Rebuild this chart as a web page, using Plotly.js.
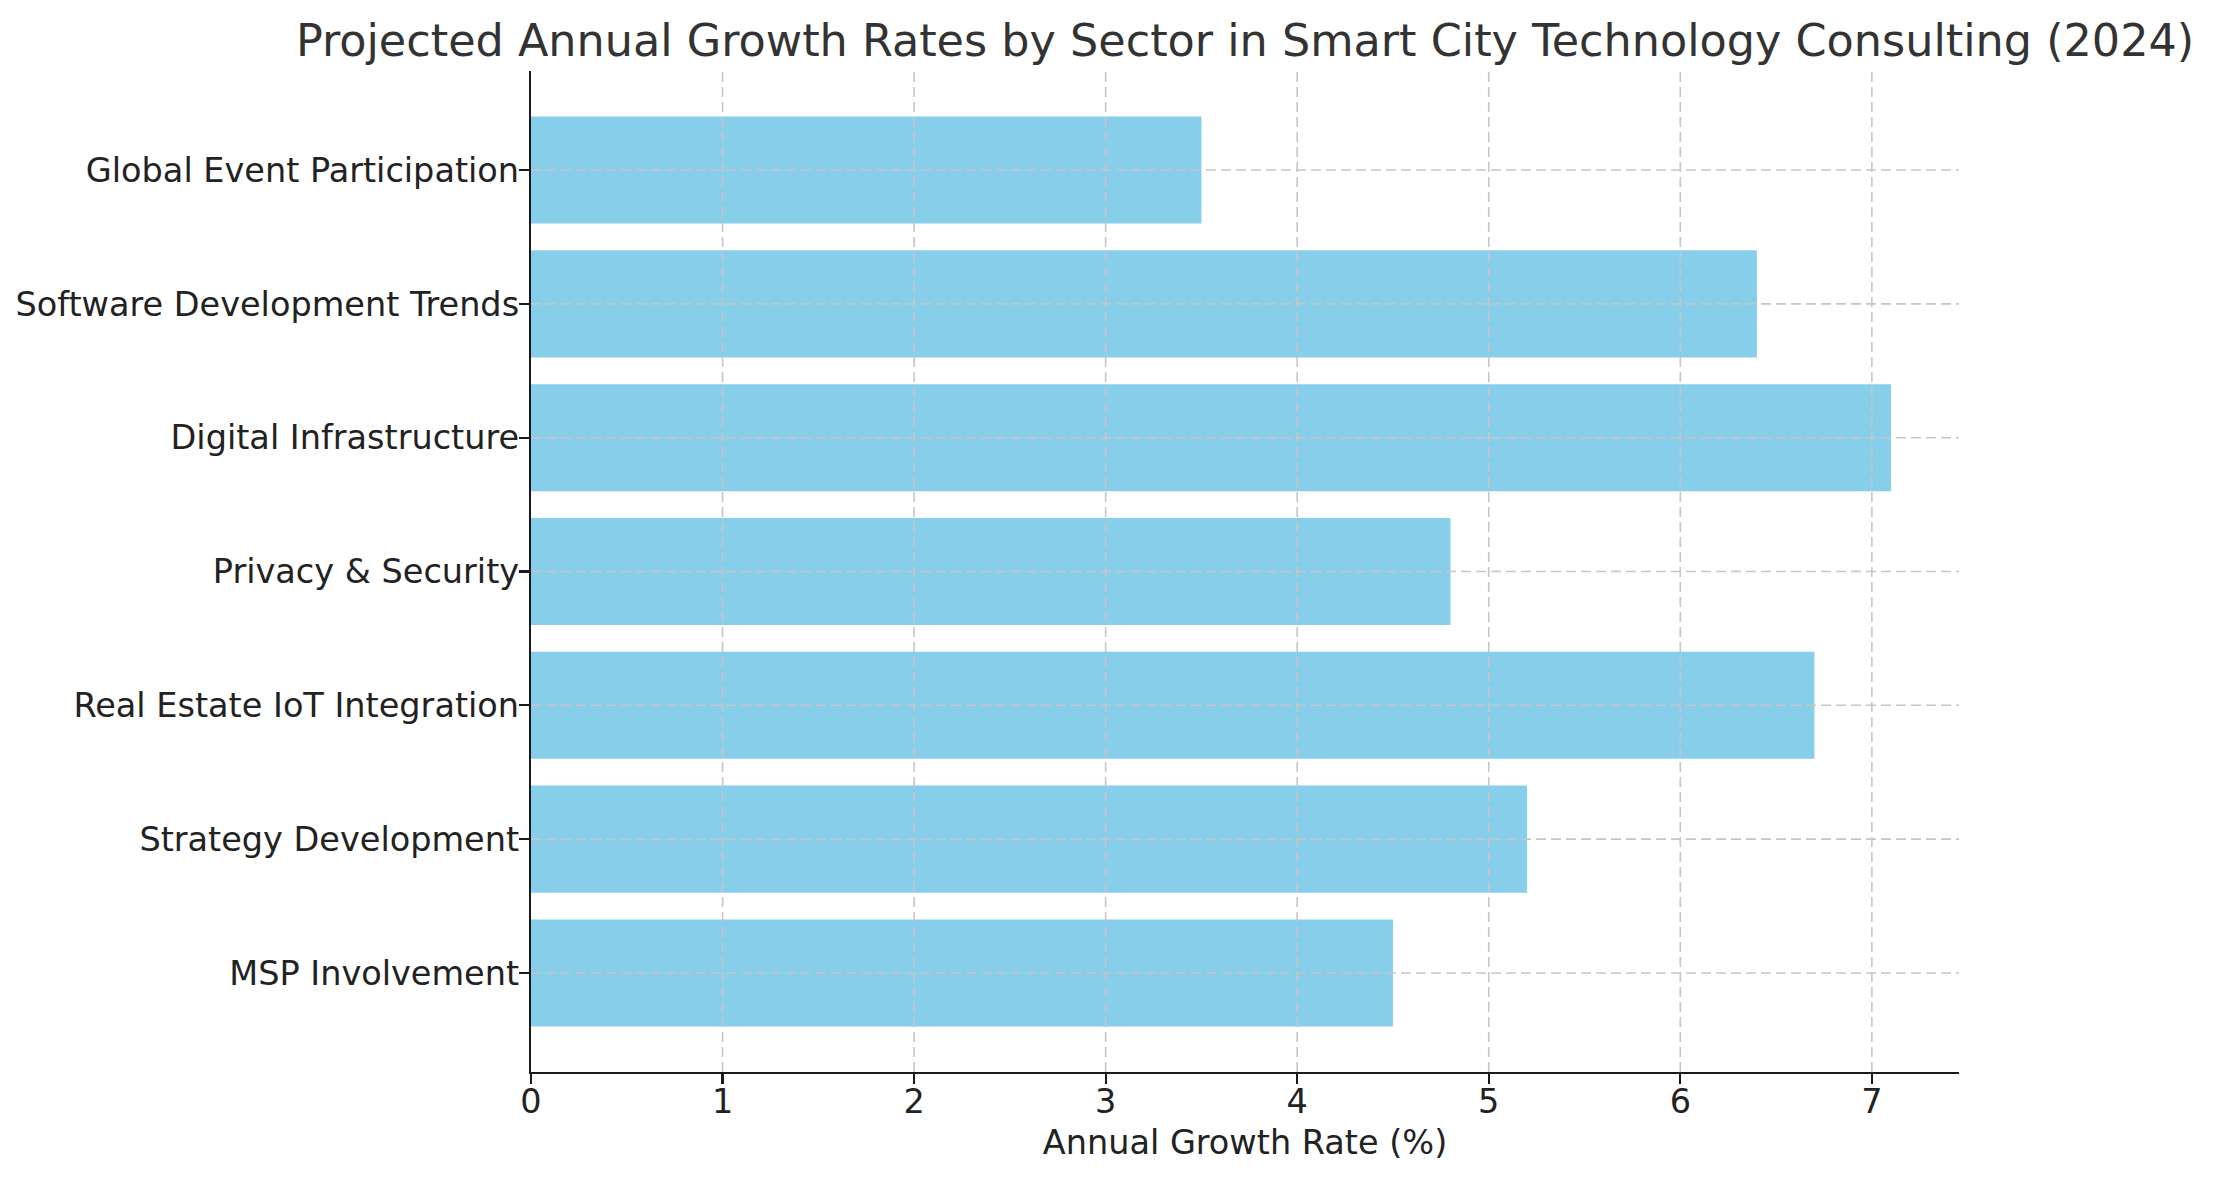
<!DOCTYPE html>
<html>
<head>
<meta charset="utf-8">
<script src="https://cdn.plot.ly/plotly-3.0.1.min.js"></script>
<style>
  html, body { margin: 0; padding: 0; background: #fff; }
  #chart { width: 2215px; height: 1180px; }
</style>
</head>
<body>
<div id="chart"></div>
<script>
// Sectors, bottom to top as they sit on the y axis.
const sectors = [
    'MSP Involvement',
    'Strategy Development',
    'Real Estate IoT Integration',
    'Privacy & Security',
    'Digital Infrastructure',
    'Software Development Trends',
    'Global Event Participation',
];
const growthRates = [4.5, 5.2, 6.7, 4.8, 7.1, 6.4, 3.5];
const xTicks = [0, 1, 2, 3, 4, 5, 6, 7];

const font = 'DejaVu Sans, Noto Sans, sans-serif';
const gridColor = '#c6c6c6';
const labelSize = 33.5;

// matplotlib draws its grid over the bars, so the grid is done with shapes
// on the 'above' layer instead of the axis gridlines (which sit below traces).
const gridShapes = [];
xTicks.filter((v) => v > 0).forEach((v) => {
    gridShapes.push({
        type: 'line', layer: 'above', xref: 'x', yref: 'paper',
        x0: v, x1: v, y0: 0, y1: 1,
        line: { color: gridColor, width: 1.6, dash: '10px,5px' },
    });
});
sectors.forEach((s) => {
    gridShapes.push({
        type: 'line', layer: 'above', xref: 'paper', yref: 'y',
        x0: 0, x1: 1, y0: s, y1: s,
        line: { color: gridColor, width: 1.6, dash: '10px,5px' },
    });
});

const trace = {
    type: 'bar',
    orientation: 'h',
    x: growthRates,
    y: sectors,
    width: 0.8,
    marker: { color: '#87ceeb', line: { width: 0 } },
    hoverinfo: 'x+y',
};

const layout = {
    width: 2215,
    height: 1180,
    paper_bgcolor: '#ffffff',
    plot_bgcolor: '#ffffff',
    font: { family: font, color: '#222222', size: labelSize },
    margin: { l: 531, r: 256, t: 71, b: 108, pad: 0 },
    showlegend: false,
    title: {
        text: 'Projected Annual Growth Rates by Sector in Smart City Technology Consulting (2024)',
        font: { family: font, size: 44.5, color: '#333333' },
        xref: 'paper', x: 0.5, xanchor: 'center',
        yref: 'container', y: 1 - 40 / 1180, yanchor: 'middle',
    },
    xaxis: {
        range: [0, 7.455],
        tickvals: xTicks,
        ticktext: xTicks.map(String),
        showgrid: false,
        zeroline: false,
        showline: true,
        linecolor: '#1a1a1a',
        linewidth: 2.2,
        ticks: 'outside',
        ticklen: 10,
        tickwidth: 2.2,
        tickcolor: '#1a1a1a',
        ticklabelstandoff: -11,
        tickfont: { family: font, size: labelSize, color: '#222222' },
        title: {
            text: 'Annual Growth Rate (%)',
            font: { family: font, size: labelSize, color: '#222222' },
            standoff: 10,
        },
        automargin: false,
        fixedrange: true,
    },
    yaxis: {
        type: 'category',
        categoryorder: 'array',
        categoryarray: sectors,
        range: [-0.74, 6.74],
        showgrid: false,
        zeroline: false,
        showline: true,
        linecolor: '#1a1a1a',
        linewidth: 2.2,
        ticks: 'outside',
        ticklen: 10,
        tickwidth: 2.2,
        tickcolor: '#1a1a1a',
        ticklabelstandoff: -7,
        tickfont: { family: font, size: labelSize, color: '#222222' },
        automargin: false,
        fixedrange: true,
    },
    shapes: gridShapes,
};

Plotly.newPlot('chart', [trace], layout, { displayModeBar: false, staticPlot: true });
</script>
</body>
</html>
